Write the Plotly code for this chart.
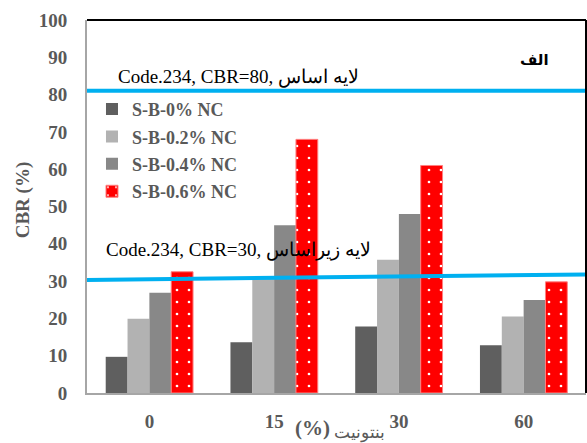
import plotly.graph_objects as go

# ---- data ----
categories = ["0", "15", "30", "60"]
series_names = ["S-B-0% NC", "S-B-0.2% NC", "S-B-0.4% NC", "S-B-0.6% NC"]
cbr_0 = [9.7, 13.6, 17.8, 12.8]
cbr_02 = [19.9, 31.0, 35.7, 20.5]
cbr_04 = [26.9, 45.0, 48.0, 24.9]
cbr_06 = [32.5, 68.0, 61.0, 29.8]
series_values = [cbr_0, cbr_02, cbr_04, cbr_06]
colors = ["#5f5f5f", "#b2b2b2", "#888888", "#ff0000"]

base_line = [81.0, 81.0]        # CBR=80 reference line (left, right end)
subbase_line = [30.3, 31.8]     # CBR=30 reference line (left, right end)
base_label = "Code.234, CBR=80, لایه اساس"
subbase_label = "Code.234, CBR=30, لایه زیراساس"
panel_label = "الف"
y_ticks = [0, 10, 20, 30, 40, 50, 60, 70, 80, 90, 100]

grey_txt = "#595959"
serif = "Liberation Serif, Times New Roman, serif"

fig = go.Figure()
for i, (name, vals) in enumerate(zip(series_names, series_values)):
    if i == 3:
        marker = dict(color=colors[i],
                      line=dict(color="#ff8080", width=1),
                      pattern=dict(shape=".", fgcolor="white", bgcolor=colors[i],
                                   size=12, solidity=0.04, fillmode="replace"))
    else:
        marker = dict(color=colors[i], line=dict(width=0))
    fig.add_trace(go.Bar(x=categories, y=vals, name=name, marker=marker,
                         legendgroup=name))

# reference lines
fig.add_shape(type="line", xref="paper", yref="y", x0=0, x1=1,
              y0=base_line[0], y1=base_line[1],
              line=dict(color="#00b0f0", width=4))
fig.add_shape(type="line", xref="paper", yref="y", x0=0, x1=1,
              y0=subbase_line[0], y1=subbase_line[1],
              line=dict(color="#00b0f0", width=4))
# top & right frame
fig.add_shape(type="line", xref="paper", yref="paper", x0=0, x1=1, y0=1, y1=1,
              line=dict(color="black", width=2))
fig.add_shape(type="line", xref="paper", yref="paper", x0=1, x1=1, y0=0, y1=1,
              line=dict(color="black", width=2))

fig.add_annotation(xref="paper", yref="y", x=0.058, y=84.7, xanchor="left",
                   text=base_label, showarrow=False,
                   font=dict(family=serif, size=19, color="black"))
fig.add_annotation(xref="paper", yref="y", x=0.034, y=38.3, xanchor="left",
                   text=subbase_label, showarrow=False,
                   font=dict(family=serif, size=19, color="black"))
fig.add_annotation(xref="paper", yref="y", x=0.897, y=89.3, xanchor="center",
                   text="<b>" + panel_label + "</b>", showarrow=False,
                   font=dict(family="DejaVu Sans, sans-serif", size=15, color="black"))
# axis titles
fig.add_annotation(xref="paper", yref="paper", x=0.412, y=-0.093, xanchor="left",
                   yanchor="middle", text="<b>(%)</b>", showarrow=False,
                   font=dict(family=serif, size=21, color=grey_txt))
fig.add_annotation(xref="paper", yref="paper", x=0.49, y=-0.107, xanchor="left",
                   yanchor="middle", text="بنتونیت", showarrow=False,
                   font=dict(family=serif, size=17, color=grey_txt))
fig.add_annotation(xref="paper", yref="paper", x=-0.128, y=0.517, xanchor="center",
                   yanchor="middle", text="<b>CBR (%)</b>", showarrow=False,
                   textangle=-90,
                   font=dict(family=serif, size=19, color=grey_txt))

fig.update_layout(
    width=587, height=443,
    margin=dict(l=87, r=1, t=20, b=50),
    paper_bgcolor="white", plot_bgcolor="white",
    barmode="group", bargap=0.3, bargroupgap=0,
    showlegend=True,
    legend=dict(x=0.01, y=0.81, xanchor="left", yanchor="top",
                bgcolor="rgba(0,0,0,0)", traceorder="grouped", tracegroupgap=1,
                itemwidth=30,
                font=dict(family=serif, size=18, color=grey_txt, weight="bold")),
    xaxis=dict(type="category", showline=True, linecolor="#a6a6a6", linewidth=2,
               showgrid=False, ticks="", ticklabelstandoff=10,
               tickfont=dict(family=serif, size=19, color=grey_txt, weight="bold")),
    yaxis=dict(range=[0, 100], tickvals=y_ticks, showline=True, linecolor="#a6a6a6",
               linewidth=2, showgrid=False, zeroline=False, ticks="",
               ticklabelstandoff=14,
               tickfont=dict(family=serif, size=19, color=grey_txt, weight="bold")),
)

fig.write_html("out.html")
